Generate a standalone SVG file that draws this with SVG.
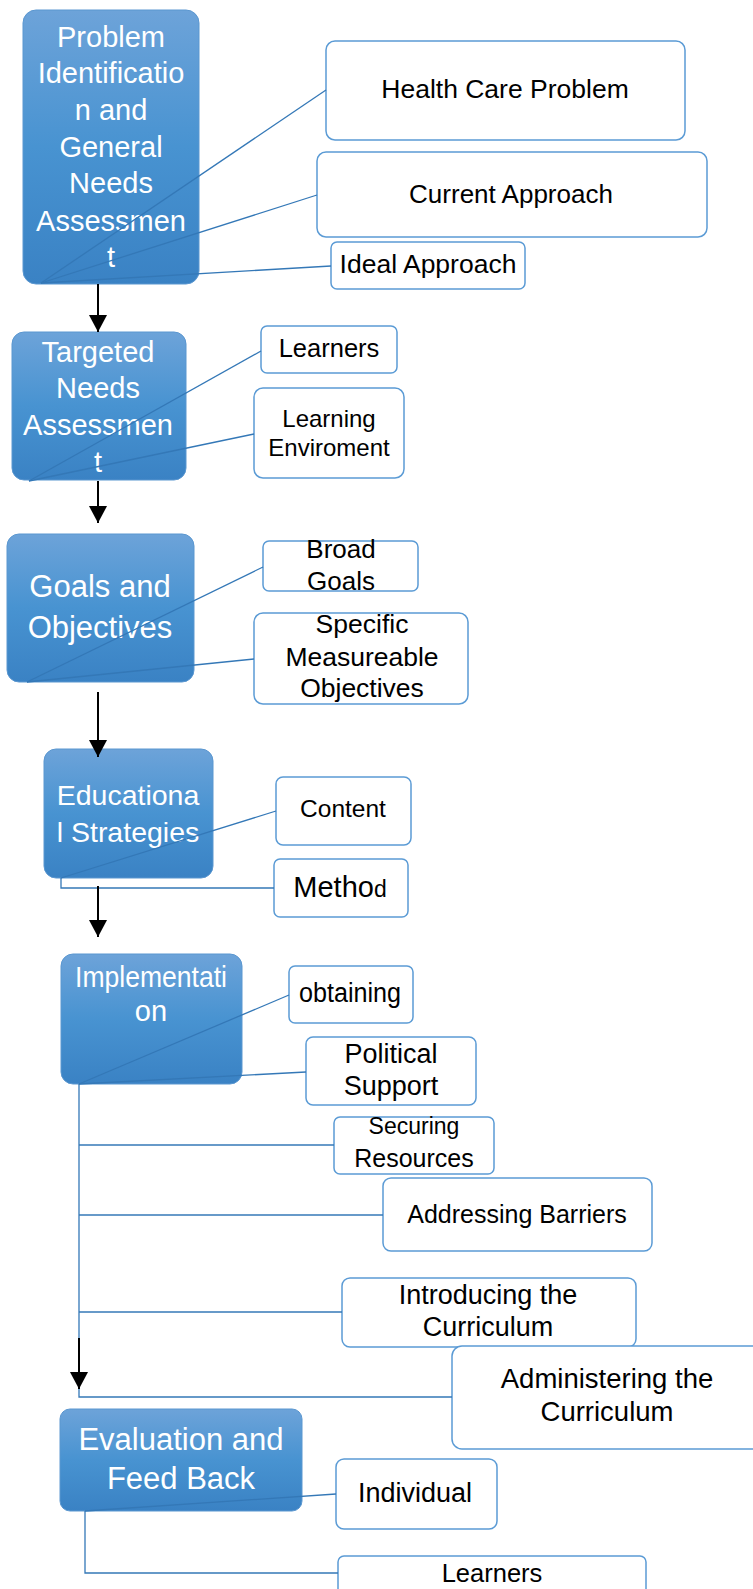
<svg xmlns="http://www.w3.org/2000/svg" width="753" height="1589" viewBox="0 0 753 1589">
<defs>
<linearGradient id="bg" x1="0" y1="0" x2="0" y2="1">
<stop offset="0" stop-color="#6da3d9"/>
<stop offset="0.5" stop-color="#4893d1"/>
<stop offset="1" stop-color="#3a82c4"/>
</linearGradient>
<marker id="ah" markerWidth="18" markerHeight="18" refX="17" refY="9" orient="auto" markerUnits="userSpaceOnUse">
<path d="M0,0 L17,9 L0,18 Z" fill="#000"/>
</marker>
<style>
.main{fill:url(#bg);stroke:#5b97d0;stroke-width:1}
.sub{fill:#fff;stroke:#5b9bd5;stroke-width:1.5}
.mt{font-family:"Liberation Sans",Arial,sans-serif;fill:#fff;text-anchor:middle}
.st{font-family:"Liberation Sans",Arial,sans-serif;fill:#000;text-anchor:middle}
.cn{stroke:#3478b7;stroke-width:1.3;fill:none}
.ar{stroke:#000;stroke-width:2;fill:none;marker-end:url(#ah)}
</style>
</defs>
<rect width="753" height="1589" fill="#fff"/>

<g id="n-problem">
<rect class="main" x="23" y="10" width="176" height="274" rx="13"/>
<text class="mt" font-size="29"><tspan x="111" y="47">Problem</tspan><tspan x="111" y="83">Identificatio</tspan><tspan x="111" y="120">n and</tspan><tspan x="111" y="157">General</tspan><tspan x="111" y="193">Needs</tspan><tspan x="111" y="231">Assessmen</tspan><tspan x="111" y="267">t</tspan></text>
</g>
<g id="n-health">
<rect class="sub" x="326" y="41" width="359" height="99" rx="9"/>
<text class="st" font-size="26.5" x="505" y="98">Health Care Problem</text>
</g>
<g id="n-current">
<rect class="sub" x="317" y="152" width="390" height="85" rx="9"/>
<text class="st" font-size="26" x="511" y="203">Current Approach</text>
</g>
<g id="n-ideal">
<rect class="sub" x="331" y="242" width="194" height="47" rx="6"/>
<text class="st" font-size="26.5" x="428" y="273">Ideal Approach</text>
</g>

<g id="n-targeted">
<rect class="main" x="12" y="332" width="174" height="148" rx="12"/>
<text class="mt" font-size="29"><tspan x="98" y="362">Targeted</tspan><tspan x="98" y="398">Needs</tspan><tspan x="98" y="435">Assessmen</tspan><tspan x="98" y="472">t</tspan></text>
</g>
<g id="n-learners1">
<rect class="sub" x="261" y="326" width="136" height="47" rx="6"/>
<text class="st" font-size="25.5" x="329" y="357">Learners</text>
</g>
<g id="n-environment">
<rect class="sub" x="254" y="388" width="150" height="90" rx="9"/>
<text class="st" font-size="24"><tspan x="329" y="427">Learning</tspan><tspan x="329" y="456">Enviroment</tspan></text>
</g>

<g id="n-goals">
<rect class="main" x="7" y="534" width="187" height="148" rx="12"/>
<text class="mt" font-size="31"><tspan x="100" y="597">Goals and</tspan><tspan x="100" y="638">Objectives</tspan></text>
</g>
<g id="n-broad">
<rect class="sub" x="263" y="541" width="155" height="50" rx="6"/>
<text class="st" font-size="26"><tspan x="341" y="558">Broad</tspan><tspan x="341" y="590">Goals</tspan></text>
</g>
<g id="n-specific">
<rect class="sub" x="254" y="613" width="214" height="91" rx="9"/>
<text class="st" font-size="26.5"><tspan x="362" y="633">Specific</tspan><tspan x="362" y="666">Measureable</tspan><tspan x="362" y="697">Objectives</tspan></text>
</g>

<g id="n-educational">
<rect class="main" x="44" y="749" width="169" height="129" rx="12"/>
<text class="mt" font-size="28.5"><tspan x="128" y="805">Educationa</tspan><tspan x="128" y="842">l Strategies</tspan></text>
</g>
<g id="n-content">
<rect class="sub" x="276" y="777" width="135" height="68" rx="7"/>
<text class="st" font-size="24.5" x="343" y="817">Content</text>
</g>
<g id="n-method">
<rect class="sub" x="274" y="859" width="134" height="58" rx="6"/>
<text class="st" font-size="29" x="340" y="897">Metho<tspan font-size="23">d</tspan></text>
</g>

<g id="n-implementation">
<rect class="main" x="61" y="954" width="181" height="130" rx="12"/>
<text class="mt" font-size="29"><tspan x="151" y="987" textLength="152" lengthAdjust="spacingAndGlyphs">Implementati</tspan><tspan x="151" y="1021">on</tspan></text>
</g>
<g id="n-obtaining">
<rect class="sub" x="289" y="966" width="124" height="57" rx="6"/>
<text class="st" font-size="27" x="350" y="1002" textLength="102" lengthAdjust="spacingAndGlyphs">obtaining</text>
</g>
<g id="n-political">
<rect class="sub" x="306" y="1037" width="170" height="68" rx="7"/>
<text class="st" font-size="27"><tspan x="391" y="1063">Political</tspan><tspan x="391" y="1095">Support</tspan></text>
</g>
<g id="n-securing">
<rect class="sub" x="334" y="1117" width="160" height="57" rx="6"/>
<text class="st"><tspan x="414" y="1134" font-size="23">Securing</tspan><tspan x="414" y="1167" font-size="25">Resources</tspan></text>
</g>
<g id="n-barriers">
<rect class="sub" x="383" y="1178" width="269" height="73" rx="8"/>
<text class="st" font-size="25" x="517" y="1223">Addressing Barriers</text>
</g>
<g id="n-introducing">
<rect class="sub" x="342" y="1278" width="294" height="69" rx="8"/>
<text class="st" font-size="27"><tspan x="488" y="1304">Introducing the</tspan><tspan x="488" y="1336">Curriculum</tspan></text>
</g>
<g id="n-administering">
<rect class="sub" x="452" y="1346" width="320" height="103" rx="10"/>
<text class="st" font-size="27.5"><tspan x="607" y="1388">Administering the</tspan><tspan x="607" y="1421">Curriculum</tspan></text>
</g>

<g id="n-evaluation">
<rect class="main" x="60" y="1409" width="242" height="102" rx="10"/>
<text class="mt" font-size="31"><tspan x="181" y="1450">Evaluation and</tspan><tspan x="181" y="1489">Feed Back</tspan></text>
</g>
<g id="n-individual">
<rect class="sub" x="336" y="1459" width="161" height="70" rx="8"/>
<text class="st" font-size="27" x="415" y="1502">Individual</text>
</g>
<g id="n-learners2">
<rect class="sub" x="338" y="1556" width="308" height="60" rx="6"/>
<text class="st" font-size="25.5" x="492" y="1582">Learners</text>
</g>

<g id="connectors">
<line class="cn" x1="41" y1="283" x2="326" y2="90"/>
<line class="cn" x1="41" y1="283" x2="317" y2="195"/>
<line class="cn" x1="41" y1="283" x2="331" y2="266"/>
<line class="cn" x1="29" y1="481" x2="261" y2="351"/>
<line class="cn" x1="29" y1="481" x2="254" y2="434"/>
<line class="cn" x1="27" y1="682" x2="263" y2="567"/>
<line class="cn" x1="27" y1="682" x2="254" y2="659"/>
<line class="cn" x1="61" y1="878" x2="276" y2="811"/>
<polyline class="cn" points="61,878 61,888 274,888"/>
<line class="cn" x1="79" y1="1084" x2="289" y2="995"/>
<line class="cn" x1="79" y1="1084" x2="306" y2="1072"/>
<polyline class="cn" points="79,1084 79,1397 452,1397"/>
<line class="cn" x1="79" y1="1145" x2="334" y2="1145"/>
<line class="cn" x1="79" y1="1215" x2="383" y2="1215"/>
<line class="cn" x1="79" y1="1312" x2="342" y2="1312"/>
<line class="cn" x1="85" y1="1511" x2="336" y2="1494"/>
<polyline class="cn" points="85,1511 85,1573 338,1573"/>
<line class="ar" x1="98" y1="284" x2="98" y2="332"/>
<line class="ar" x1="98" y1="481" x2="98" y2="523"/>
<line class="ar" x1="98" y1="692" x2="98" y2="757"/>
<line class="ar" x1="98" y1="886" x2="98" y2="937"/>
<line class="ar" x1="79" y1="1338" x2="79" y2="1389"/>
</g>
</svg>
